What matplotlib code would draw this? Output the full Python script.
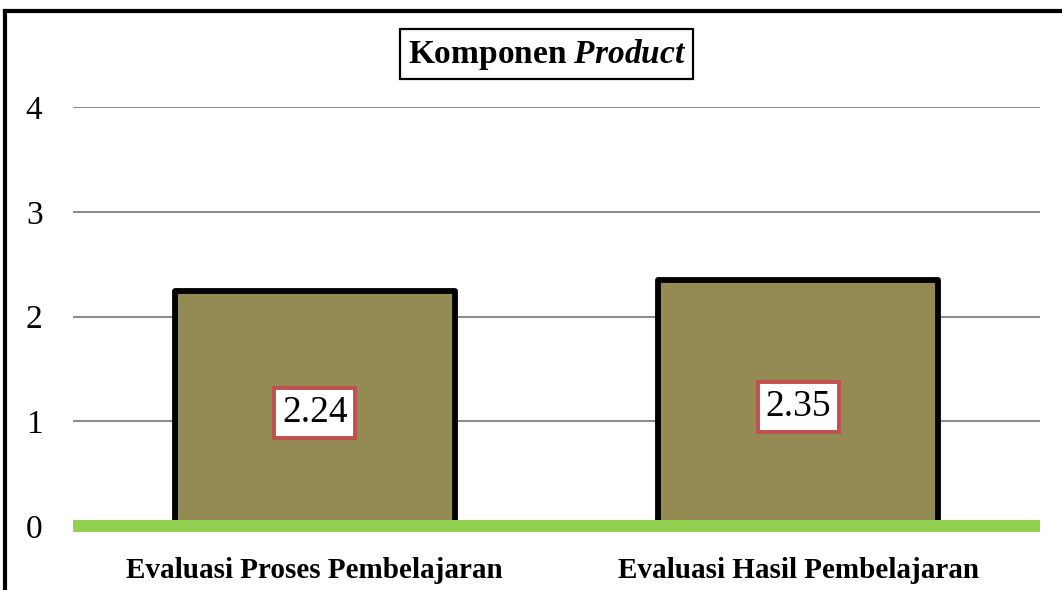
import matplotlib.pyplot as plt
from matplotlib.lines import Line2D

plt.rcParams['font.family'] = ['Liberation Serif', 'DejaVu Serif']
plt.rcParams['mathtext.fontset'] = 'custom'
plt.rcParams['mathtext.rm'] = 'Liberation Serif:bold'
plt.rcParams['mathtext.it'] = 'Liberation Serif:bold:italic'

# chart data
categories = ['Evaluasi Proses Pembelajaran', 'Evaluasi Hasil Pembelajaran']
values = [2.24, 2.35]
yticks = [0, 1, 2, 3, 4]

fig = plt.figure(figsize=(10.62, 5.9), dpi=100)
ax = fig.add_axes([73 / 1062, 64 / 590, 967 / 1062, 419 / 590])

x = range(len(categories))
bars = ax.bar(x, values, width=0.58, color='#948A54', edgecolor='black',
              linewidth=4.2, joinstyle='round', zorder=3)

# value labels in boxes
for xi, v in zip(x, values):
    ax.text(xi, v / 2 - 0.04, f'{v:.2f}', ha='center', va='center',
            fontsize=27, zorder=5,
            bbox=dict(boxstyle='square,pad=0.2', facecolor='white',
                      edgecolor='#C0504D', linewidth=2.8))

ax.set_xlim(-0.5, 1.5)
ax.set_ylim(0, 4)
ax.set_yticks(yticks)
ax.set_yticklabels([str(t) for t in yticks], fontsize=24)
ax.set_xticks(list(x))
ax.set_xticklabels(categories, fontsize=21, fontweight='bold')
ax.tick_params(axis='both', length=0)
ax.tick_params(axis='y', pad=22)
ax.tick_params(axis='x', pad=22)

ax.yaxis.grid(True, color='#8C8C8C', linewidth=1.5, zorder=0)
ax.set_axisbelow(True)
for s in ax.spines.values():
    s.set_visible(False)

# green baseline
ax.axhline(0, color='#92D050', linewidth=8.6, zorder=4, clip_on=False,
           solid_capstyle='butt')

# title with box
fig.text(0.515, 0.908, r'Komponen $\mathit{Product}$', ha='center', va='center',
         fontsize=24, fontweight='bold',
         bbox=dict(boxstyle='square,pad=0.22', facecolor='white',
                   edgecolor='black', linewidth=1.6))

# outer frame (left and top)
fig.add_artist(Line2D([5 / 1062, 5 / 1062], [0, 579 / 590], color='black',
                      linewidth=3, transform=fig.transFigure))
fig.add_artist(Line2D([5 / 1062, 1], [579 / 590, 579 / 590], color='black',
                      linewidth=3, transform=fig.transFigure))

fig.savefig('out.png', dpi=100)
